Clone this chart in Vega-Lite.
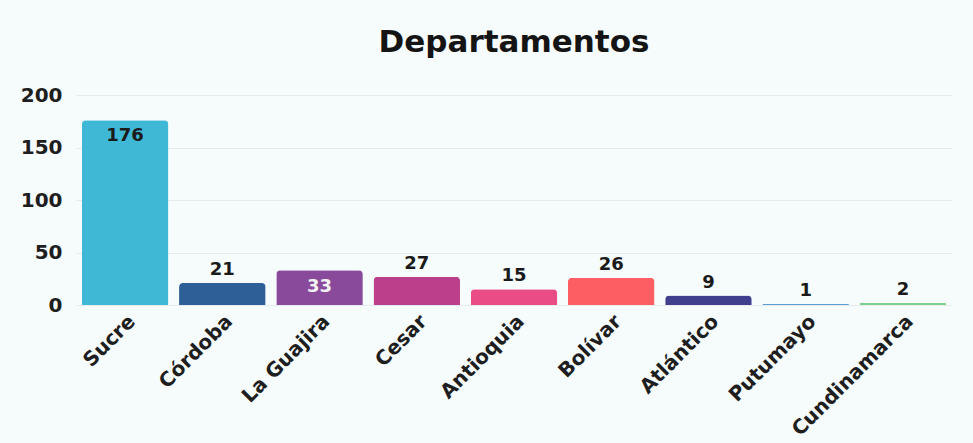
{
  "$schema": "https://vega.github.io/schema/vega-lite/v6.json",
  "width": 876,
  "height": 210,
  "autosize": {"type": "none"},
  "padding": {"left": 76, "top": 95, "right": 21, "bottom": 138},
  "background": "#f6fbfc",
  "title": {"text": "Departamentos", "fontSize": 31, "fontWeight": "bold", "font": "DejaVu Sans", "color": "#141414", "anchor": "middle", "offset": 26},
  "config": {
    "view": {"stroke": null},
    "font": "DejaVu Sans"
  },
  "data": {
    "values": [
      {"Departamento": "Sucre", "Casos": 176},
      {"Departamento": "Córdoba", "Casos": 21},
      {"Departamento": "La Guajira", "Casos": 33},
      {"Departamento": "Cesar", "Casos": 27},
      {"Departamento": "Antioquia", "Casos": 15},
      {"Departamento": "Bolívar", "Casos": 26},
      {"Departamento": "Atlántico", "Casos": 9},
      {"Departamento": "Putumayo", "Casos": 1},
      {"Departamento": "Cundinamarca", "Casos": 2}
    ]
  },
  "encoding": {
    "x": {
      "field": "Departamento", "type": "nominal", "sort": null,
      "scale": {"paddingInner": 0.11, "paddingOuter": 0.06},
      "axis": {"title": null, "labelAngle": -45, "labelAlign": "right", "labelBaseline": "top", "labelFontSize": 20, "labelFontWeight": "bold", "labelColor": "#1e1e1e", "domain": false, "ticks": false, "labelPadding": 6, "grid": false, "labelOverlap": false, "labelBound": false}
    },
    "y": {
      "field": "Casos", "type": "quantitative",
      "scale": {"domain": [0, 200]},
      "axis": {"title": null, "values": [0, 50, 100, 150, 200], "labelFontSize": 20, "labelFontWeight": "bold", "labelColor": "#1e1e1e", "domain": false, "ticks": false, "labelPadding": 14, "gridColor": "#e6ebed", "gridWidth": 1}
    }
  },
  "layer": [
    {
      "mark": {"type": "bar", "cornerRadiusTopLeft": 4, "cornerRadiusTopRight": 4},
      "encoding": {
        "color": {
          "field": "Departamento", "type": "nominal", "sort": null, "legend": null,
          "scale": {
            "domain": ["Sucre", "Córdoba", "La Guajira", "Cesar", "Antioquia", "Bolívar", "Atlántico", "Putumayo", "Cundinamarca"],
            "range": ["#3fb8d5", "#2e5f96", "#8a4a9c", "#bb3f8b", "#ea4d86", "#fd5e64", "#3f3f8e", "#5a9fd0", "#7fce8a"]
          }
        }
      }
    },
    {
      "transform": [{"filter": "datum.Departamento !== 'Sucre' && datum.Departamento !== 'La Guajira'"}],
      "mark": {"type": "text", "baseline": "bottom", "dy": -4, "fontSize": 18, "fontWeight": "bold", "color": "#1a1a1a"},
      "encoding": {"text": {"field": "Casos", "type": "quantitative"}}
    },
    {
      "transform": [{"filter": "datum.Departamento === 'Sucre'"}],
      "mark": {"type": "text", "baseline": "top", "dy": 7, "fontSize": 18, "fontWeight": "bold", "color": "#1a1a1a"},
      "encoding": {"text": {"field": "Casos", "type": "quantitative"}}
    },
    {
      "transform": [{"filter": "datum.Departamento === 'La Guajira'"}],
      "mark": {"type": "text", "baseline": "top", "dy": 8, "fontSize": 18, "fontWeight": "bold", "color": "#f2f2f2"},
      "encoding": {"text": {"field": "Casos", "type": "quantitative"}}
    }
  ]
}
